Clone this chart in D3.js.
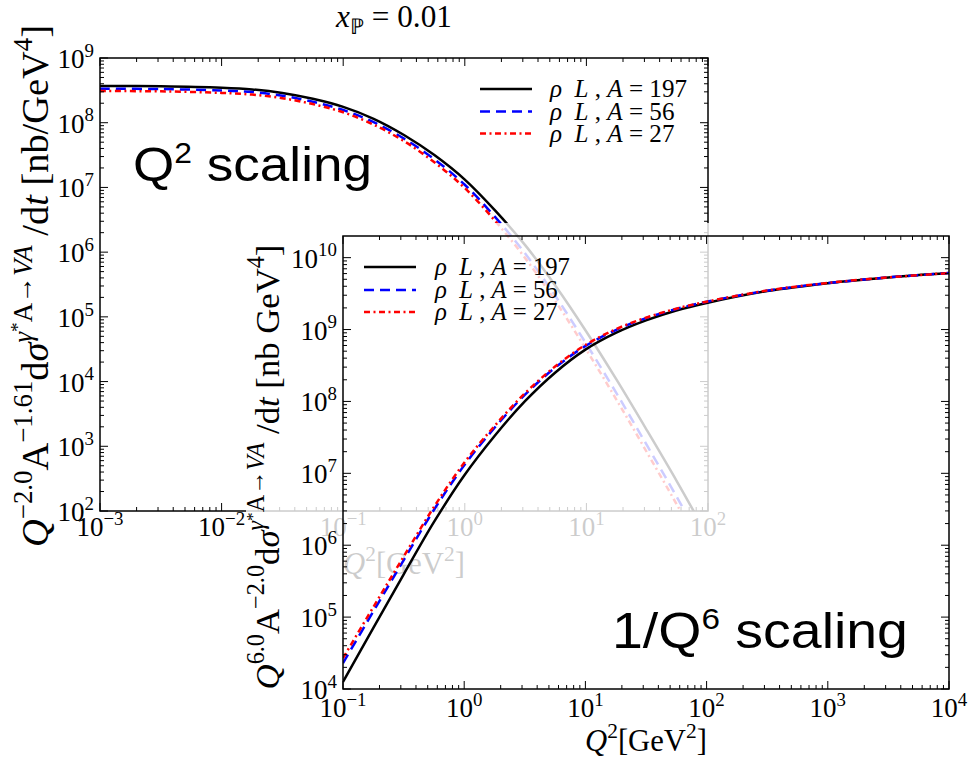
<!DOCTYPE html>
<html><head><meta charset="utf-8">
<script src="https://cdn.jsdelivr.net/npm/d3@7"></script>
<style>body{margin:0;background:#fff}svg{display:block}text{white-space:pre}</style>
</head><body>
<script>
// ---------- DATA ----------
const backQ2 = [0.001,0.00316,0.01,0.0178,0.0316,0.0562,0.1,0.178,0.316,0.562,1,1.78,3.16,5.62,10,17.8,31.6,56.2,100];
const backA197 = [3.70e8,3.65e8,3.47e8,3.27e8,2.88e8,2.34e8,1.76e8,1.15e8,6.46e7,3.16e7,1.32e7,4.37e6,1.26e6,2.95e5,5.89e4,1.05e4,1.74e3,2.75e2,3.98e1];
const backA56  = [3.36e8,3.31e8,3.15e8,2.97e8,2.62e8,2.11e8,1.57e8,1.02e8,5.69e7,2.72e7,1.10e7,3.47e6,9.33e5,2.04e5,3.80e4,6.46e3,1.02e3,1.57e2,2.24e1];
const backA27  = [3.09e8,3.05e8,2.89e8,2.72e8,2.39e8,1.94e8,1.45e8,9.33e7,5.19e7,2.45e7,9.77e6,3.02e6,7.94e5,1.70e5,3.09e4,5.13e3,7.94e2,1.20e2,1.70e1];

const frontQ2 = [0.1,0.178,0.316,0.562,1,1.78,3.16,5.62,10,17.8,31.6,56.2,100,316,1000,3160,10000];
const frontA197 = [1.26e4,7.08e4,3.90e5,2.09e6,9.33e6,3.31e7,1.00e8,2.51e8,5.25e8,8.97e8,1.34e9,1.84e9,2.34e9,3.43e9,4.42e9,5.31e9,6.10e9];
const frontA56  = [2.29e4,1.20e5,6.17e5,3.09e6,1.29e7,4.30e7,1.23e8,2.95e8,5.89e8,9.84e8,1.44e9,1.93e9,2.43e9,3.47e9,4.42e9,5.31e9,6.10e9];
const frontA27  = [2.69e4,1.38e5,6.92e5,3.39e6,1.40e7,4.56e7,1.29e8,3.06e8,6.10e8,1.01e9,1.46e9,1.95e9,2.44e9,3.49e9,4.45e9,5.31e9,6.10e9];

const seriesA = ["197","56","27"];
const backXTicks = [1e-3,1e-2,1e-1,1e0,1e1,1e2];
const backXLabels = ["−3","−2","−1","0","1","2"];
const backYTicks = [1e2,1e3,1e4,1e5,1e6,1e7,1e8,1e9];
const backYLabels = ["2","3","4","5","6","7","8","9"];
const frontXTicks = [1e-1,1e0,1e1,1e2,1e3,1e4];
const frontXLabels = ["−1","0","1","2","3","4"];
const frontYTicks = [1e4,1e5,1e6,1e7,1e8,1e9,1e10];
const frontYLabels = ["4","5","6","7","8","9","10"];

// ---------- SETUP ----------
const W=969,H=762;
const svg=d3.select('body').append('svg').attr('width',W).attr('height',H)
  .style('font-family','"Liberation Serif", serif');
const colors=['#000000','#0000ff','#ff0000'];
const dashes=[null,'10,6','6,3.5,2,3.5'];
const LW=2.5;

const bx=d3.scaleLog().domain([1e-3,1e2]).range([100,708]);
const by=d3.scaleLog().domain([1e2,1e9]).range([511,58]);
const fx=d3.scaleLog().domain([1e-1,1e4]).range([343,949]);
const fy=d3.scaleLog().domain([1e4,2e10]).range([689,236]);

// rich text helper
const SHIFT={0:0,1:-0.42,2:-0.62,'-1':0.22}, SIZE={0:1,1:0.7,2:0.5,'-1':0.7};
function build(t,segs,fs){
  t.selectAll('tspan').remove();
  t.attr('font-size',fs);
  let cur=0;
  segs.forEach(([txt,it,lvl])=>{
    const sh=SHIFT[lvl]*fs;
    t.append('tspan').attr('dy',(sh-cur).toFixed(2)).attr('font-size',(SIZE[lvl]*fs).toFixed(2))
      .attr('font-style',it?'italic':'normal').text(txt);
    cur=sh;
  });
}
function rich(parent,segs,fs,attrs,target){
  const t=parent.append('text');
  for(const k in attrs) t.attr(k,attrs[k]);
  build(t,segs,fs);
  if(target){const L=t.node().getComputedTextLength(); build(t,segs,fs*target/L);}
  return t;
}
function minors(dom){
  const out=[];const a=Math.floor(Math.log10(dom[0])),b=Math.ceil(Math.log10(dom[1]));
  for(let d=a;d<b;d++)for(let k=2;k<=9;k++){const v=k*Math.pow(10,d);if(v>dom[0]&&v<dom[1])out.push(v);}
  return out;
}
function axesFrame(g,x,y,xMaj,yMaj){
  const [X0,X1]=x.range(),[Y0,Y1]=y.range();
  const xm=minors(x.domain()),ym=minors(y.domain());
  const tk=g.append('g').attr('stroke','#000').attr('stroke-width',1);
  const addX=(vals,len)=>{
    tk.selectAll(null).data(vals).join('line').attr('x1',d=>x(d)).attr('x2',d=>x(d)).attr('y1',Y0).attr('y2',Y0-len);
    tk.selectAll(null).data(vals).join('line').attr('x1',d=>x(d)).attr('x2',d=>x(d)).attr('y1',Y1).attr('y2',Y1+len);
  };
  const addY=(vals,len)=>{
    tk.selectAll(null).data(vals).join('line').attr('y1',d=>y(d)).attr('y2',d=>y(d)).attr('x1',X0).attr('x2',X0+len);
    tk.selectAll(null).data(vals).join('line').attr('y1',d=>y(d)).attr('y2',d=>y(d)).attr('x1',X1).attr('x2',X1-len);
  };
  addX(xMaj,8);addX(xm,4);addY(yMaj,8);addY(ym,4);
  g.append('rect').attr('x',X0).attr('y',Y1).attr('width',X1-X0).attr('height',Y0-Y1)
    .attr('fill','none').attr('stroke','#000').attr('stroke-width',1.5);
}
function curves(g,x,y,xs,sets,clipId){
  const line=d3.line().x(d=>x(d[0])).y(d=>y(d[1])).curve(d3.curveCatmullRom.alpha(0.5));
  const cg=g.append('g').attr('clip-path',`url(#${clipId})`);
  sets.forEach((vals,i)=>{
    cg.append('path').datum(xs.map((q,j)=>[q,vals[j]])).attr('d',line)
      .attr('fill','none').attr('stroke',colors[i]).attr('stroke-width',LW)
      .attr('stroke-dasharray',dashes[i]);
  });
}
function legend(g,x0,ys,tx,tw){
  seriesA.forEach((a,i)=>{
    g.append('line').attr('x1',x0).attr('x2',x0+52).attr('y1',ys[i]).attr('y2',ys[i])
      .attr('stroke',colors[i]).attr('stroke-width',LW).attr('stroke-dasharray',dashes[i]);
    const segs=[['ρ',1,0],['  ',0,0],['L',1,0],[' , ',0,0],['A',1,0],[' = '+a,0,0]];
    const t=rich(g,segs,22,{x:tx,y:ys[i]+8});
    if(i===0){const L=t.node().getComputedTextLength(); legend.fs=22*tw/L; }
    build(t,segs,legend.fs);
  });
}
function bigText(g,x,y,parts,fs,target){
  const gg=g.append('g');
  const t=gg.append('text').attr('x',0).attr('y',0).attr('font-family','"Liberation Sans", Arial, sans-serif').attr('font-size',fs);
  t.append('tspan').text(parts[0]);
  t.append('tspan').attr('dy',-0.38*fs).attr('font-size',0.6*fs).text(parts[1]);
  t.append('tspan').attr('dy',0.38*fs).text(parts[2]);
  const L=t.node().getComputedTextLength();
  gg.attr('transform',`translate(${x},${y}) scale(${target/L},1)`);
}
const defs=svg.append('defs');
defs.append('clipPath').attr('id','cb').append('rect').attr('x',100).attr('y',58).attr('width',608).attr('height',453);
defs.append('clipPath').attr('id','cf').append('rect').attr('x',343).attr('y',236).attr('width',606).attr('height',453);

// ---------- BACK PLOT ----------
const back=svg.append('g');
curves(back,bx,by,backQ2,[backA197,backA56,backA27],'cb');
axesFrame(back,bx,by,backXTicks,backYTicks);
backXTicks.forEach((v,i)=>rich(back,[['10',0,0],[backXLabels[i],0,1]],27,{x:bx(v),y:536,'text-anchor':'middle'}));
backYTicks.forEach((v,i)=>rich(back,[['10',0,0],[backYLabels[i],0,1]],27,{x:94,y:by(v)+10,'text-anchor':'end'}));
rich(back,[['Q',1,0],['2',0,1],['[GeV',0,0],['2',0,1],[']',0,0]],26,{x:404,y:574,'text-anchor':'middle'},122);
rich(back,[['x',1,0],['ℙ',0,-1],[' = 0.01',0,0]],22,{x:394,y:27,'text-anchor':'middle'},116);
const bl=back.append('g').attr('transform','translate(48,286) rotate(-90)');
rich(bl,[['Q',1,0],['−2.0',0,1],['A',0,0],['−1.61',0,1],['d',0,0],['σ',1,0],['γ',1,1],['*',0,2],['A→',0,1],['VA',1,1],[' /d',0,0],['t',1,0],[' [nb/GeV',0,0],['4',0,1],[']',0,0]],28,{x:0,y:0,'text-anchor':'middle'},522);
legend(back,480,[89,111.5,133.5],550,137);
bigText(back,133,181,['Q','2',' scaling'],48,239);

// ---------- SEMI-TRANSPARENT PATCH ----------
svg.append('rect').attr('x',246).attr('y',223).attr('width',W-246).attr('height',H-223).attr('fill','#fff').attr('fill-opacity',0.8);

// ---------- FRONT PLOT ----------
const front=svg.append('g');
curves(front,fx,fy,frontQ2,[frontA197,frontA56,frontA27],'cf');
axesFrame(front,fx,fy,frontXTicks,frontYTicks);
frontXTicks.forEach((v,i)=>rich(front,[['10',0,0],[frontXLabels[i],0,1]],27,{x:fx(v),y:717,'text-anchor':'middle'}));
frontYTicks.forEach((v,i)=>rich(front,[['10',0,0],[frontYLabels[i],0,1]],27,{x:337,y:fy(v)+10,'text-anchor':'end'}));
rich(front,[['Q',1,0],['2',0,1],['[GeV',0,0],['2',0,1],[']',0,0]],26,{x:646,y:751,'text-anchor':'middle'},122);
const fl=front.append('g').attr('transform','translate(279,467) rotate(-90)');
rich(fl,[['Q',1,0],['6.0',0,1],['A',0,0],['−2.0',0,1],['d',0,0],['σ',1,0],['γ',1,1],['*',0,2],['A→',0,1],['VA',1,1],[' /d',0,0],['t',1,0],[' [nb GeV',0,0],['4',0,1],[']',0,0]],28,{x:0,y:0,'text-anchor':'middle'},445);
legend(front,364,[267,290,312],435,135);
bigText(front,612,648,['1/Q','6',' scaling'],50,296);
</script>
</body></html>
